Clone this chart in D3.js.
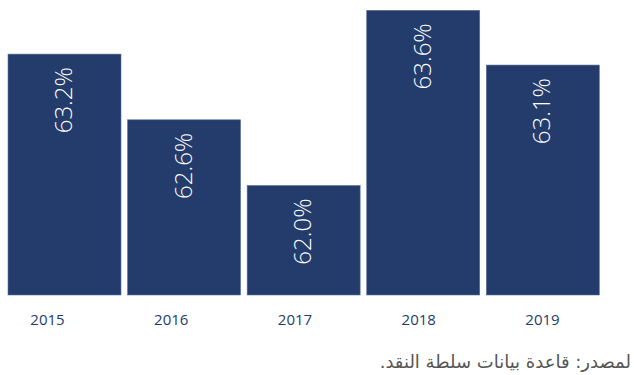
<!DOCTYPE html>
<html>
<head>
<meta charset="utf-8">
<script src="https://cdn.jsdelivr.net/npm/d3@7"></script>
<style>
  html, body { margin: 0; padding: 0; background: #ffffff; }
  svg { display: block; }
</style>
</head>
<body>
<svg id="chart" width="634" height="375"></svg>
<script>
// Share values by year (%)
const years = ["2015", "2016", "2017", "2018", "2019"];
const shares = [63.2, 62.6, 62.0, 63.6, 63.1];
const sourceNote = "لمصدر: قاعدة بيانات سلطة النقد.";

const data = years.map((y, i) => ({ year: y, value: shares[i] }));

const svg = d3.select("#chart");

const barColor = "#233c6c";

// Bars sit on a truncated baseline so the differences stay visible
const x = d3.scaleBand()
  .domain(years)
  .range([8, 599.3])
  .paddingInner(0.055)
  .paddingOuter(0);

const y = d3.scaleLinear()
  .domain([61, 63.6])
  .range([295, 10.3]);

// Year labels follow their own slightly wider spacing
const xLabel = d3.scalePoint()
  .domain(years)
  .range([47, 542]);

svg.append("g")
  .selectAll("rect")
  .data(data)
  .join("rect")
  .attr("x", d => x(d.year))
  .attr("y", d => y(d.value))
  .attr("width", x.bandwidth())
  .attr("height", d => y.range()[0] - y(d.value))
  .attr("fill", barColor)
  .attr("stroke", "#5d709a")
  .attr("stroke-width", 0.6);

// Value labels, rotated, reading upward from the bar top
svg.append("g")
  .selectAll("text")
  .data(data)
  .join("text")
  .attr("transform", d => `translate(${x(d.year) + x.bandwidth() / 2 - 2},${y(d.value) + 13}) rotate(-90)`)
  .attr("text-anchor", "end")
  .attr("dominant-baseline", "central")
  .attr("fill", "#ffffff")
  .style("font-family", "'Open Sans', sans-serif")
  .style("font-weight", 300)
  .style("font-size", "24px")
  .text(d => d3.format(".1f")(d.value) + "%");

// Year axis (no line, no ticks)
const axis = svg.append("g")
  .attr("transform", "translate(0,314)")
  .call(d3.axisBottom(xLabel).tickSize(0).tickPadding(0));
axis.select(".domain").remove();
axis.selectAll("text")
  .attr("dy", "0.71em")
  .attr("fill", barColor)
  .style("font-family", "'Open Sans', sans-serif")
  .style("font-weight", 500)
  .style("font-size", "15px");

// Source note, right-aligned, right-to-left
svg.append("text")
  .attr("x", 631)
  .attr("y", 368)
  .attr("text-anchor", "start")
  .attr("direction", "rtl")
  .attr("fill", "#555555")
  .style("font-family", "'DejaVu Sans', sans-serif")
  .style("font-size", "18px")
  .text(sourceNote);
</script>
</body>
</html>
